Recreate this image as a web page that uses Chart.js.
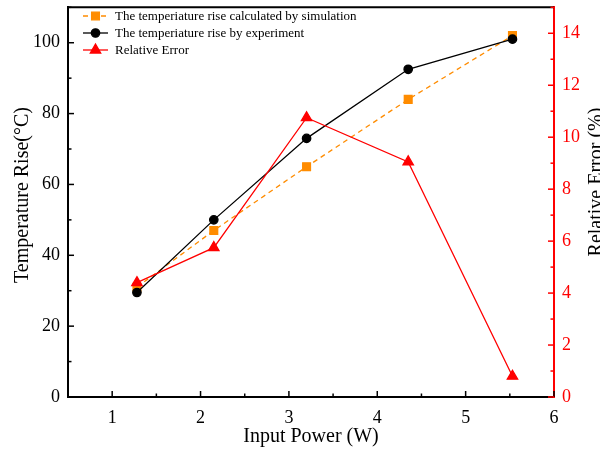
<!DOCTYPE html>
<html>
<head>
<meta charset="utf-8">
<script src="https://cdn.jsdelivr.net/npm/chart.js@4/dist/chart.umd.min.js"></script>
<style>
  html, body { margin: 0; padding: 0; background: #fff; }
  canvas { display: block; }
</style>
</head>
<body>
<canvas id="tempChart" width="600" height="454"></canvas>
<script>
const inputPower = [1.28, 2.15, 3.2, 4.35, 5.53];
const simRise = [31, 47, 65, 84, 102];
const expRise = [29.5, 50, 73, 92.5, 101];
const relError = [4.4, 5.75, 10.75, 9.05, 0.8];

const xTicks = [1, 2, 3, 4, 5, 6];
const leftTicks = [0, 20, 40, 60, 80, 100];
const rightTicks = [0, 2, 4, 6, 8, 10, 12, 14];

const legendLabels = [
    "The temperiature rise calculated by simulation",
    "The temperiature rise by experiment",
    "Relative Error"
];

document.addEventListener("DOMContentLoaded", () => {
    const serif = "'Liberation Serif', 'Times New Roman', serif";
    const ORANGE = '#ff8c00';
    const RED = '#ff0000';

    const pts = ys => inputPower.map((x, i) => ({ x: x, y: ys[i] }));

    // frame, inward ticks, titles and legend
    const decor = {
        id: 'decor',
        afterDraw(chart) {
            const ctx = chart.ctx;
            const a = chart.chartArea;
            const sx = chart.scales.x, sl = chart.scales.y, sr = chart.scales.y1;
            ctx.save();
            ctx.lineWidth = 2;

            ctx.strokeStyle = '#000';
            ctx.beginPath();
            ctx.moveTo(a.left, a.top);
            ctx.lineTo(a.right, a.top);
            ctx.stroke();

            const tick = (x1, y1, x2, y2) => { ctx.beginPath(); ctx.moveTo(x1, y1); ctx.lineTo(x2, y2); ctx.stroke(); };

            ctx.lineWidth = 1.5;
            xTicks.forEach(v => {
                const p = sx.getPixelForValue(v);
                tick(p, a.bottom, p, a.bottom - 6);
                const m = sx.getPixelForValue(v - 0.5);
                tick(m, a.bottom, m, a.bottom - 3.5);
            });
            leftTicks.forEach(v => {
                const p = sl.getPixelForValue(v);
                tick(a.left, p, a.left + 6, p);
                const m = sl.getPixelForValue(v + 10);
                tick(a.left, m, a.left + 3.5, m);
            });
            ctx.strokeStyle = RED;
            rightTicks.forEach(v => {
                const p = sr.getPixelForValue(v);
                tick(a.right, p, a.right - 6, p);
                const m = sr.getPixelForValue(v + 1);
                tick(a.right, m, a.right - 3.5, m);
            });

            // axis titles
            ctx.fillStyle = '#000';
            ctx.font = '20px ' + serif;
            ctx.textAlign = 'center';
            ctx.textBaseline = 'middle';
            ctx.fillText('Input Power (W)', (a.left + a.right) / 2, 437);
            ctx.save();
            ctx.translate(23, 195);
            ctx.rotate(-Math.PI / 2);
            ctx.fillText('Temperature Rise(\u00B0C)', 0, 0);
            ctx.restore();
            ctx.save();
            ctx.translate(597, 182);
            ctx.rotate(-Math.PI / 2);
            ctx.fillText('Relative Error (%)', 0, 0);
            ctx.restore();

            // legend
            ctx.font = '13px ' + serif;
            ctx.textAlign = 'left';
            chart.data.datasets.forEach((ds, i) => {
                const y = 16 + i * 17;
                ctx.strokeStyle = ds.borderColor;
                ctx.lineWidth = ds.borderWidth;
                ctx.setLineDash(ds.borderDash || []);
                tick(83, y, 108, y);
                ctx.setLineDash([]);
                ctx.fillStyle = ds.pointBackgroundColor;
                ctx.strokeStyle = ds.pointBorderColor;
                Chart.helpers.drawPoint(ctx, {
                    pointStyle: ds.pointStyle, radius: ds.pointRadius,
                    borderWidth: 1, rotation: 0
                }, 95.5, y);
                ctx.fillStyle = '#000';
                ctx.fillText(legendLabels[i], 115, y + 1);
            });
            ctx.restore();
        }
    };

    const fixTicks = vals => scale => { scale.ticks = vals.map(v => ({ value: v })); };

    new Chart(document.getElementById('tempChart'), {
        type: 'line',
        data: {
            datasets: [
                {
                    label: legendLabels[0],
                    data: pts(simRise),
                    yAxisID: 'y',
                    borderColor: ORANGE,
                    borderWidth: 1.3,
                    borderDash: [5, 4],
                    pointStyle: 'rect',
                    pointRadius: 5.5,
                    pointBackgroundColor: ORANGE,
                    pointBorderColor: ORANGE,
                    order: 2
                },
                {
                    label: legendLabels[1],
                    data: pts(expRise),
                    yAxisID: 'y',
                    borderColor: '#000',
                    borderWidth: 1.3,
                    pointStyle: 'circle',
                    pointRadius: 4.2,
                    pointBackgroundColor: '#000',
                    pointBorderColor: '#000',
                    order: 1
                },
                {
                    label: legendLabels[2],
                    data: pts(relError),
                    yAxisID: 'y1',
                    borderColor: RED,
                    borderWidth: 1.3,
                    pointStyle: 'triangle',
                    pointRadius: 6,
                    pointBackgroundColor: RED,
                    pointBorderColor: RED,
                    order: 0
                }
            ]
        },
        options: {
            responsive: false,
            animation: false,
            layout: { padding: { top: 5, left: 0, right: 0, bottom: 0 } },
            elements: { line: { tension: 0 }, point: { borderWidth: 1 } },
            plugins: { legend: { display: false }, tooltip: { enabled: false } },
            scales: {
                x: {
                    type: 'linear',
                    min: 0.5, max: 6,
                    afterBuildTicks: fixTicks(xTicks),
                    afterFit: s => { s.height = 57; s.paddingLeft = 0; s.paddingRight = 0; },
                    grid: { drawOnChartArea: false, drawTicks: false },
                    border: { color: '#000', width: 2 },
                    ticks: { color: '#000', padding: 10, font: { family: serif, size: 18 }, maxRotation: 0 }
                },
                y: {
                    position: 'left',
                    min: 0, max: 110,
                    afterBuildTicks: fixTicks(leftTicks),
                    afterFit: s => { s.width = 68; s.paddingTop = 0; s.paddingBottom = 0; },
                    grid: { drawOnChartArea: false, drawTicks: false },
                    border: { color: '#000', width: 2 },
                    ticks: { color: '#000', padding: 8, font: { family: serif, size: 18 } }
                },
                y1: {
                    position: 'right',
                    min: 0, max: 15,
                    afterBuildTicks: fixTicks(rightTicks),
                    afterFit: s => { s.width = 46; s.paddingTop = 0; s.paddingBottom = 0; },
                    grid: { drawOnChartArea: false, drawTicks: false },
                    border: { color: RED, width: 2 },
                    ticks: { color: RED, padding: 8, font: { family: serif, size: 18 } }
                }
            }
        },
        plugins: [decor]
    });
});
</script>
</body>
</html>
